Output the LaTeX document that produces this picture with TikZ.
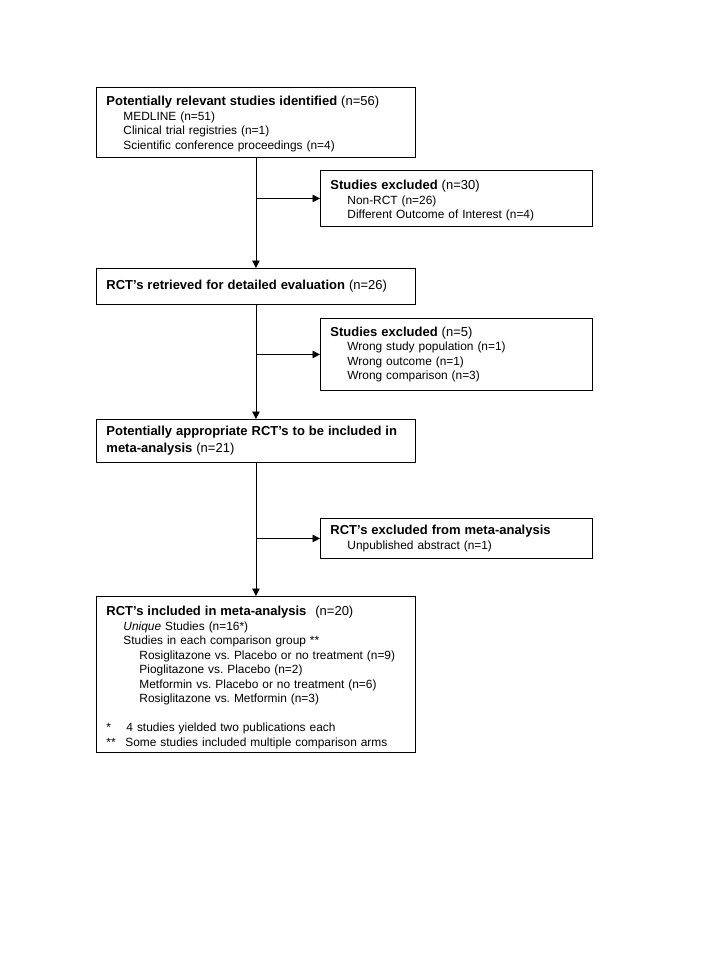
\documentclass[tikz,border=0pt]{standalone}
\usepackage{fontspec}
\setmainfont{Liberation Sans}
\usetikzlibrary{arrows.meta}
\frenchspacing
\newcommand{\ttl}[1]{{\fontsize{13}{14.5}\selectfont\bfseries #1}}
\newcommand{\tn}[1]{{\fontsize{13}{14.5}\selectfont #1}}
\newcommand{\ia}{\hspace*{17pt}}
\newcommand{\ib}{\hspace*{33pt}}
\begin{document}
\begin{tikzpicture}[x=1pt,y=-1pt,
  box/.style={draw=black, line width=0.9pt, anchor=north west, align=left,
    inner xsep=10pt, inner ysep=0pt, font=\fontsize{11.9}{14.5}\selectfont\frenchspacing},
  arr/.style={line width=0.9pt, -{Triangle[length=7.5pt,width=7.5pt]}}]
\useasboundingbox (0,0) rectangle (720,960);
\node[box, minimum width=319pt, minimum height=70pt, text width=299pt] (b1) at (96,87)
 {\ttl{\rule{0pt}{13pt}Potentially relevant studies identified} \tn{(n=56)}\\
  \ia MEDLINE (n=51)\\
  \ia Clinical trial registries (n=1)\\
  \ia Scientific conference proceedings (n=4)};
\node[box, minimum width=272pt, minimum height=56pt, text width=252pt] (b2) at (320,170)
 {\ttl{\rule{0pt}{14pt}Studies excluded} \tn{(n=30)}\\
  \ia Non-RCT (n=26)\\
  \ia Different Outcome of Interest (n=4)};
\node[box, minimum width=319pt, minimum height=36pt, text width=299pt] (b3) at (96,268)
 {\ttl{RCT’s retrieved for detailed evaluation} \tn{(n=26)}};
\node[box, minimum width=272pt, minimum height=72pt, text width=252pt] (b4) at (320,318)
 {\ttl{Studies excluded} \tn{(n=5)}\\
  \ia Wrong study population (n=1)\\
  \ia Wrong outcome (n=1)\\
  \ia Wrong comparison (n=3)};
\node[box, minimum width=319pt, minimum height=43pt, text width=299pt] (b5) at (96,419)
 {\ttl{Potentially appropriate RCT’s to be included in}\\[2.5pt]
  \ttl{meta-analysis} \tn{(n=21)}};
\node[box, minimum width=272pt, minimum height=40pt, text width=252pt] (b6) at (320,518)
 {\ttl{RCT’s excluded from meta-analysis}\\
  \ia Unpublished abstract (n=1)};
\node[box, minimum width=319pt, minimum height=156pt, text width=299pt] (b7) at (96,596)
 {\ttl{\rule{0pt}{16pt}RCT’s included in meta-analysis}\hspace{5pt} \tn{(n=20)}\\
  \ia \textit{Unique} Studies (n=16*)\\
  \ia Studies in each comparison group **\\
  \ib Rosiglitazone vs. Placebo or no treatment (n=9)\\
  \ib Pioglitazone vs. Placebo (n=2)\\
  \ib Metformin vs. Placebo or no treatment (n=6)\\
  \ib Rosiglitazone vs. Metformin (n=3)\\
  \mbox{}\\
  \makebox[20pt][l]{*}4 studies yielded two publications each\\
  \makebox[19pt][l]{**}Some studies included multiple comparison arms};
\draw[arr] (b1.south) -- (b3.north);
\draw[arr] (b3.south) -- (b5.north);
\draw[arr] (b5.south) -- (b7.north);
\draw[arr] (b2.west -| b1.south) -- (b2.west);
\draw[arr] (b4.west -| b1.south) -- (b4.west);
\draw[arr] (b6.west -| b1.south) -- (b6.west);
\end{tikzpicture}
\end{document}
